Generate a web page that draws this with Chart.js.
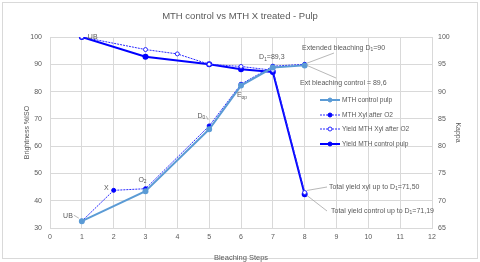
<!DOCTYPE html>
<html>
<head>
<meta charset="utf-8">
<script src="https://cdn.jsdelivr.net/npm/chart.js@4.4.1/dist/chart.umd.min.js"></script>
<style>
  body { margin: 0; background: #fff; }
  canvas { display: block; }
</style>
</head>
<body>
<canvas id="pulpChart" width="480" height="262"></canvas>
<script>
// bleaching steps on the x axis
const steps = [1, 2, 3, 4, 5, 6, 7, 8];

// brightness, % ISO (left axis)
const controlBrightness = [32.5, null, 43.5, null, 66.2, 82.2, 88.8, 89.6];
const xylBrightness = [32.5, 43.8, 44.4, null, 67.4, 82.7, 89.3, 90.0];

// yield (right axis, labelled Kappa)
const yieldXyl = [100, null, 97.7, 96.9, 95.0, 94.6, 93.9, 71.50];
const yieldControl = [100, null, 96.4, null, 95.0, 94.1, 93.6, 71.19];

const seriesNames = ['MTH control pulp', 'MTH Xyl after O2', 'Yield MTH Xyl after O2', 'Yield MTH control pulp'];

const textColor = '#595959';
const gridColor = '#d9d9d9';
const fontFamily = '"Liberation Sans", Arial, sans-serif';

function toPoints(values) {
    const pts = [];
    values.forEach(function(v, i) {
        if (v !== null) pts.push({ x: steps[i], y: v });
    });
    return pts;
}

// text with subscript parts: [[text, isSub], ...]
function richWidth(ctx, parts, size) {
    let w = 0;
    parts.forEach(function(p) {
        ctx.font = (p[1] ? size * 0.7 : size) + 'px ' + fontFamily;
        w += ctx.measureText(p[0]).width;
    });
    return w;
}

function drawRich(ctx, parts, x, y, align, size) {
    size = size || 7;
    const w = richWidth(ctx, parts, size);
    let cx = align === 'right' ? x - w : (align === 'center' ? x - w / 2 : x);
    ctx.textAlign = 'left';
    ctx.textBaseline = 'middle';
    ctx.fillStyle = textColor;
    parts.forEach(function(p) {
        ctx.font = (p[1] ? size * 0.7 : size) + 'px ' + fontFamily;
        ctx.fillText(p[0], cx, p[1] ? y + 2 : y);
        cx += ctx.measureText(p[0]).width;
    });
}

function leader(ctx, x1, y1, x2, y2) {
    ctx.strokeStyle = '#a6a6a6';
    ctx.lineWidth = 0.8;
    ctx.beginPath();
    ctx.moveTo(x1, y1);
    ctx.lineTo(x2, y2);
    ctx.stroke();
}

const decorPlugin = {
    id: 'decor',
    beforeDraw: function(chart) {
        const ctx = chart.ctx;
        ctx.save();
        ctx.fillStyle = '#fff';
        ctx.fillRect(0, 0, chart.width, chart.height);
        ctx.strokeStyle = '#d9d9d9';
        ctx.lineWidth = 1;
        ctx.strokeRect(2.5, 2.5, chart.width - 5, chart.height - 6);
        ctx.fillStyle = textColor;
        ctx.font = '9.5px ' + fontFamily;
        ctx.textAlign = 'center';
        ctx.textBaseline = 'middle';
        ctx.fillText('MTH control vs MTH X treated - Pulp', 240, 16);
        ctx.restore();
    },
    afterDatasetsDraw: function(chart) {
        const ctx = chart.ctx;
        const sx = chart.scales.x, sy = chart.scales.y, sy1 = chart.scales.y1;
        const px = function(i) { return sx.getPixelForValue(steps[i]); };
        ctx.save();

        // point labels
        drawRich(ctx, [['UB', 0]], px(0) + 6, sy1.getPixelForValue(yieldControl[0]), 'left');
        drawRich(ctx, [['UB', 0]], px(0) - 9, sy.getPixelForValue(xylBrightness[0]) - 5, 'right');
        leader(ctx, px(0) - 8, sy.getPixelForValue(xylBrightness[0]) - 6, px(0) - 3, sy.getPixelForValue(xylBrightness[0]) - 3);
        drawRich(ctx, [['X', 0]], px(1) - 5, sy.getPixelForValue(xylBrightness[1]) - 2, 'right');
        drawRich(ctx, [['O', 0], ['2', 1]], px(2) - 3, sy.getPixelForValue(xylBrightness[2]) - 9, 'center');
        drawRich(ctx, [['D', 0], ['0', 1]], px(4) - 4, sy.getPixelForValue(xylBrightness[4]) - 10, 'right');
        leader(ctx, px(4) - 3, sy.getPixelForValue(xylBrightness[4]) - 10, px(4) - 1, sy.getPixelForValue(xylBrightness[4]) - 6);
        drawRich(ctx, [['E', 0], ['op', 1]], px(5) + 1, sy.getPixelForValue(xylBrightness[5]) + 11, 'center');
        drawRich(ctx, [['D', 0], ['1', 1], ['=89,3', 0]], px(6) - 1, sy.getPixelForValue(xylBrightness[6]) - 9, 'center');

        // callouts at step 8
        const p8x = px(7), p8y = sy.getPixelForValue(xylBrightness[7]);
        leader(ctx, p8x + 2, p8y - 1, 334, 53);
        drawRich(ctx, [['Extended bleaching D', 0], ['1', 1], ['=90', 0]], 302, 48, 'left');
        leader(ctx, p8x + 2, p8y + 1, 336, 78);
        drawRich(ctx, [['Ext bleaching control = 89,6', 0]], 300, 83, 'left');

        const y8x = sy1.getPixelForValue(yieldXyl[7]);
        const y8c = sy1.getPixelForValue(yieldControl[7]);
        leader(ctx, p8x + 2, y8x - 2, 327, 187);
        drawRich(ctx, [['Total yield xyl up to D', 0], ['1', 1], ['=71,50', 0]], 329, 187, 'left');
        leader(ctx, p8x + 2, y8c + 1, 327, 211);
        drawRich(ctx, [['Total yield control up to D', 0], ['1', 1], ['=71,19', 0]], 331, 211, 'left');

        // legend inside the plot
        const legendY = [100, 115, 129, 144];
        chart.data.datasets.forEach(function(ds, i) {
            const y = legendY[i];
            ctx.strokeStyle = ds.borderColor;
            ctx.lineWidth = ds.borderWidth;
            ctx.setLineDash(ds.borderDash || []);
            ctx.beginPath();
            ctx.moveTo(320, y);
            ctx.lineTo(340, y);
            ctx.stroke();
            ctx.setLineDash([]);
            ctx.beginPath();
            ctx.arc(330, y, ds.pointRadius, 0, Math.PI * 2);
            ctx.fillStyle = ds.pointBackgroundColor;
            ctx.fill();
            ctx.lineWidth = 1;
            ctx.strokeStyle = ds.pointBorderColor;
            ctx.stroke();
            drawRich(ctx, [[ds.label, 0]], 342, y, 'left', 6.6);
        });
        ctx.restore();
    }
};

const ctx = document.getElementById('pulpChart');

new Chart(ctx, {
    type: 'line',
    data: {
        datasets: [{
            label: seriesNames[0],
            data: toPoints(controlBrightness),
            yAxisID: 'y',
            borderColor: '#5B9BD5',
            borderWidth: 2,
            pointRadius: 2,
            pointBackgroundColor: '#5B9BD5',
            pointBorderColor: '#5B9BD5',
            tension: 0
        }, {
            label: seriesNames[1],
            data: toPoints(xylBrightness),
            yAxisID: 'y',
            borderColor: '#2a2aff',
            borderWidth: 1,
            borderDash: [2, 1],
            pointRadius: 2,
            pointBackgroundColor: '#0000ff',
            pointBorderColor: '#0000ff',
            tension: 0
        }, {
            label: seriesNames[2],
            data: toPoints(yieldXyl),
            yAxisID: 'y1',
            borderColor: '#2a2aff',
            borderWidth: 1,
            borderDash: [2, 1],
            pointRadius: 2,
            pointBackgroundColor: '#ffffff',
            pointBorderColor: '#2a2aff',
            tension: 0
        }, {
            label: seriesNames[3],
            data: toPoints(yieldControl),
            yAxisID: 'y1',
            borderColor: '#0000ff',
            borderWidth: 2,
            pointRadius: 2,
            pointBackgroundColor: '#0000ff',
            pointBorderColor: '#0000ff',
            tension: 0
        }]
    },
    options: {
        responsive: false,
        animation: false,
        devicePixelRatio: 1,
        layout: { padding: { top: 37, left: 0, right: 0, bottom: 0 } },
        plugins: {
            legend: { display: false },
            title: { display: false },
            tooltip: { enabled: false }
        },
        scales: {
            x: {
                type: 'linear',
                min: 0,
                max: 12,
                ticks: { stepSize: 1, color: textColor, font: { size: 7, family: fontFamily }, padding: 5 },
                grid: { color: gridColor, drawTicks: false },
                border: { color: gridColor },
                title: { display: true, text: 'Bleaching Steps', color: textColor, font: { size: 7.5, family: fontFamily }, padding: { top: 9, bottom: 0 } },
                afterFit: function(s) { s.height = 34; }
            },
            y: {
                position: 'left',
                min: 30,
                max: 100,
                ticks: { stepSize: 10, color: textColor, font: { size: 7, family: fontFamily }, padding: 8 },
                grid: { color: gridColor, drawTicks: false },
                border: { color: gridColor },
                title: { display: true, text: 'Brightness %ISO', color: textColor, font: { size: 7, family: fontFamily }, padding: { top: 23, bottom: 0 } },
                afterFit: function(s) { s.width = 50; }
            },
            y1: {
                position: 'right',
                min: 65,
                max: 100,
                ticks: { stepSize: 5, color: textColor, font: { size: 7, family: fontFamily }, padding: 6 },
                grid: { drawOnChartArea: false, drawTicks: false },
                border: { color: gridColor },
                title: { display: true, text: 'Kappa', color: textColor, font: { size: 7, family: fontFamily }, padding: { top: 18, bottom: 0 } },
                afterFit: function(s) { s.width = 48; }
            }
        }
    },
    plugins: [decorPlugin]
});
</script>
</body>
</html>
